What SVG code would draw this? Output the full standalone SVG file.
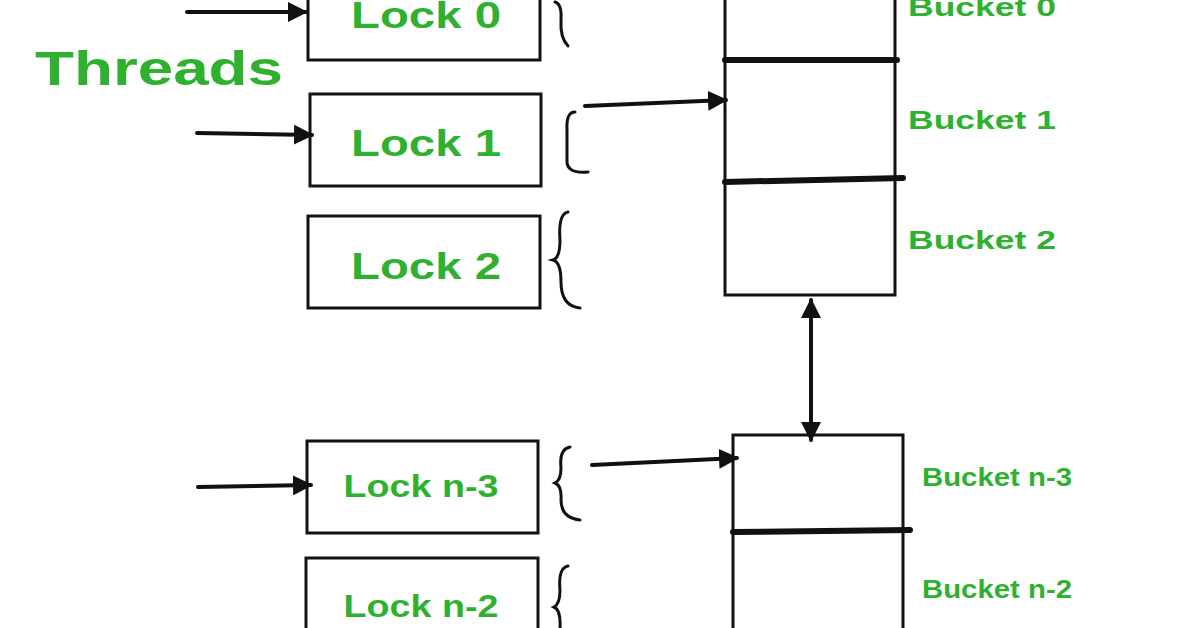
<svg xmlns="http://www.w3.org/2000/svg" width="1196" height="628" viewBox="0 0 1196 628">
<style>
.box{fill:#fff;stroke:#111;stroke-width:3}
.lk{font-family:"Liberation Sans",Arial,sans-serif;font-weight:bold;fill:#2fb12f;text-anchor:middle}
.bk{font-family:"Liberation Sans",Arial,sans-serif;font-weight:bold;fill:#2fb12f;font-size:25px}
.ln{stroke:#111;stroke-width:4;fill:none;stroke-linecap:round}
.dv{stroke:#111;stroke-width:6;fill:none;stroke-linecap:round}
.br{stroke:#111;stroke-width:3;fill:none;stroke-linecap:round}
</style>
<defs>
<marker id="ah" viewBox="0 0 10 10" refX="9" refY="5" markerWidth="5" markerHeight="5" orient="auto-start-reverse"><path d="M0,0 L10,5 L0,10 z" fill="#111"/></marker>
</defs>
<rect width="1196" height="628" fill="#fff"/>
<text x="35" y="85" font-family="Liberation Sans,Arial,sans-serif" font-weight="bold" font-size="48" fill="#2fb12f" textLength="248" lengthAdjust="spacingAndGlyphs">Threads</text>
<g id="lock0"><rect class="box" x="308" y="-5" width="232" height="65"/><text class="lk" x="426" y="28" font-size="36" textLength="150" lengthAdjust="spacingAndGlyphs">Lock 0</text></g>
<g id="lock1"><rect class="box" x="310" y="94" width="231" height="92"/><text class="lk" x="426" y="156" font-size="37" textLength="150" lengthAdjust="spacingAndGlyphs">Lock 1</text></g>
<g id="lock2"><rect class="box" x="308" y="216" width="232" height="92"/><text class="lk" x="426" y="279" font-size="37" textLength="150" lengthAdjust="spacingAndGlyphs">Lock 2</text></g>
<g id="lockn3"><rect class="box" x="307" y="441" width="231" height="92"/><text class="lk" x="421" y="497" font-size="32" textLength="155" lengthAdjust="spacingAndGlyphs">Lock n-3</text></g>
<g id="lockn2"><rect class="box" x="306" y="558" width="232" height="90"/><text class="lk" x="421" y="617" font-size="32" textLength="155" lengthAdjust="spacingAndGlyphs">Lock n-2</text></g>
<g id="buckets1"><rect class="box" x="725" y="-5" width="170" height="300"/>
<text class="bk" x="908" y="16" textLength="148" lengthAdjust="spacingAndGlyphs">Bucket 0</text><text class="bk" x="908" y="129" textLength="148" lengthAdjust="spacingAndGlyphs">Bucket 1</text><text class="bk" x="908" y="249" textLength="148" lengthAdjust="spacingAndGlyphs">Bucket 2</text></g>
<g id="buckets2"><rect class="box" x="733" y="435" width="170" height="205"/>
<text class="bk" x="922" y="486" font-size="23" textLength="150" lengthAdjust="spacingAndGlyphs">Bucket n-3</text><text class="bk" x="922" y="598" font-size="23" textLength="150" lengthAdjust="spacingAndGlyphs">Bucket n-2</text></g>
<g id="connectors">
<path class="dv" d="M725,60 L897,60"/><path class="dv" d="M725,182 L903,178"/><path class="dv" d="M733,532 L910,530"/>
<path class="ln" d="M187,12 L306,12" marker-end="url(#ah)"/>
<path class="ln" d="M197,133 L312,135" marker-end="url(#ah)"/>
<path class="ln" d="M198,487 L311,485" marker-end="url(#ah)"/>
<path class="ln" d="M585,106 L726,100" marker-end="url(#ah)"/>
<path class="ln" d="M592,465 L737,458" marker-end="url(#ah)"/>
<path class="ln" d="M811,300 L811,440" marker-start="url(#ah)" marker-end="url(#ah)"/>
<path class="br" d="M555,2 Q562,4 561,20 Q560,38 568,46"/>
<path class="br" d="M575,112 Q566,112 567,130 L567,160 Q566,174 588,172"/>
<path class="br" d="M568,212 Q558,214 560,240 Q560,258 553,260 Q561,262 561,282 Q561,306 580,308"/>
<path class="br" d="M570,447 Q559,449 561,468 Q561,480 555,483 Q562,486 561,500 Q561,518 580,520"/>
<path class="br" d="M568,566 Q558,568 560,590 Q560,604 554,607 Q561,610 560,628"/>
</g>
</svg>
